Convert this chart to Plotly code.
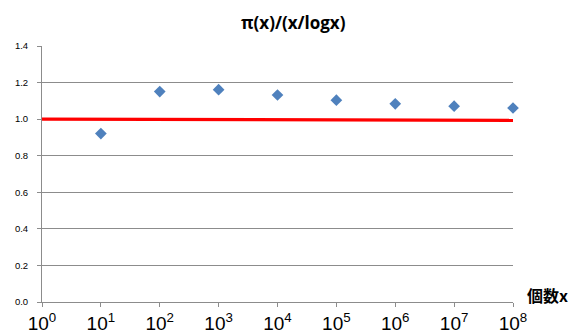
import plotly.graph_objects as go

# data
x_vals = [1e1, 1e2, 1e3, 1e4, 1e5, 1e6, 1e7, 1e8]
ratio_vals = [0.921, 1.151, 1.161, 1.132, 1.104, 1.084, 1.071, 1.061]
ref_x = [1e0, 1e8]
ref_y = [1.0, 0.993]
tick_exps = [0, 1, 2, 3, 4, 5, 6, 7, 8]
tick_labels = [f"10<sup>{e}</sup>" for e in tick_exps]
tick_vals = [10 ** e for e in tick_exps]
y_ticks = [0.0, 0.2, 0.4, 0.6, 0.8, 1.0, 1.2, 1.4]

fig = go.Figure()
fig.add_trace(go.Scatter(
    x=ref_x, y=ref_y, mode="lines",
    line=dict(color="#ff0000", width=3.2),
    showlegend=False, hoverinfo="skip", cliponaxis=False,
))
fig.add_trace(go.Scatter(
    x=x_vals, y=ratio_vals, mode="markers",
    marker=dict(symbol="diamond", size=9, color="#4f81bd"),
    showlegend=False, cliponaxis=False,
))

fig.update_layout(
    width=579, height=336,
    margin=dict(l=42, r=66, t=46, b=34),
    paper_bgcolor="white", plot_bgcolor="white",
    font=dict(family="Liberation Sans, Arial, sans-serif", color="#000000"),
    xaxis=dict(
        type="log", range=[0, 8], automargin=False,
        tickmode="array", tickvals=tick_vals, ticktext=tick_labels,
        tickfont=dict(size=19, color="#000000"),
        showgrid=False, zeroline=False,
        showline=True, linecolor="#8c8c8c", linewidth=1,
        ticks="outside", ticklen=4, tickcolor="#8c8c8c",
    ),
    yaxis=dict(
        range=[0, 1.4], tickmode="array", tickvals=y_ticks, automargin=False,
        tickformat=".1f",
        tickfont=dict(size=9.5, color="#000000"),
        showgrid=True, gridcolor="#8c8c8c", gridwidth=1,
        zeroline=False,
        showline=True, linecolor="#8c8c8c", linewidth=1,
        ticks="outside", ticklen=4, tickcolor="#8c8c8c",
        ticklabelstandoff=7,
    ),
    annotations=[
        dict(text="<b>π(x)/(x/logx)</b>", xref="paper", yref="paper",
             x=0.535, y=1.0, yshift=24, xanchor="center", yanchor="middle",
             showarrow=False,
             font=dict(size=17, family="Open Sans, Liberation Sans, sans-serif", color="#000000")),
        dict(text="<b>個数x</b>", xref="paper", yref="paper",
             x=1.0, y=0.0, xshift=12, yshift=7, xanchor="left", yanchor="middle",
             showarrow=False,
             font=dict(size=16, family="Noto Sans CJK JP, sans-serif", color="#000000")),
    ],
)

fig.write_html("out.html", config={"displayModeBar": False},
               post_script="document.body.style.margin='0';")
